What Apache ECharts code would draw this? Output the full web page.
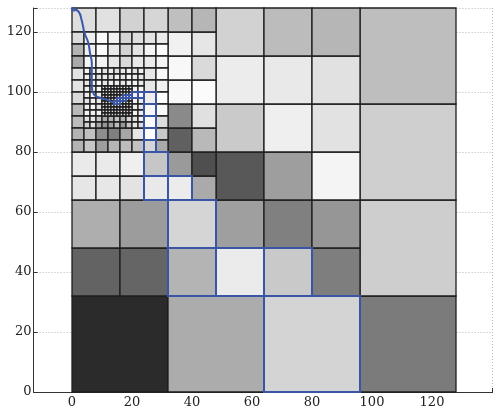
<!DOCTYPE html>
<html>
<head>
<meta charset="utf-8">
<script src="https://cdn.jsdelivr.net/npm/echarts@6/dist/echarts.min.js"></script>
<style>
  html, body { margin: 0; padding: 0; background: #fff; }
  #chart { width: 493px; height: 410px; }
</style>
</head>
<body>
<div id="chart"></div>
<script>
// coarse quadtree cells: [x, y, size, gray]
const coarseCells = [
  [0, 0, 32, 43], [32, 0, 32, 172], [64, 0, 32, 212], [96, 0, 32, 123],
  [96, 32, 32, 206], [96, 64, 32, 207], [96, 96, 32, 190],
  [0, 32, 16, 99], [16, 32, 16, 101], [32, 32, 16, 180], [48, 32, 16, 235], [64, 32, 16, 201], [80, 32, 16, 126],
  [0, 48, 16, 174], [16, 48, 16, 156], [32, 48, 16, 213], [48, 48, 16, 159], [64, 48, 16, 128], [80, 48, 16, 150],
  [48, 64, 16, 88], [48, 80, 16, 202], [48, 96, 16, 236], [48, 112, 16, 210],
  [64, 64, 16, 158], [80, 64, 16, 244], [64, 80, 16, 239], [80, 80, 16, 226],
  [64, 96, 16, 233], [80, 96, 16, 225], [64, 112, 16, 188], [80, 112, 16, 182],
  [32, 64, 8, 236], [40, 64, 8, 170], [32, 72, 8, 154], [40, 72, 8, 79],
  [32, 80, 8, 96], [40, 80, 8, 185], [32, 88, 8, 138], [40, 88, 8, 224],
  [32, 96, 8, 248], [40, 96, 8, 251], [32, 104, 8, 248], [40, 104, 8, 218],
  [32, 112, 8, 241], [40, 112, 8, 230], [32, 120, 8, 191], [40, 120, 8, 182],
  [0, 64, 8, 230], [8, 64, 8, 231], [16, 64, 8, 227], [24, 64, 8, 233],
  [0, 72, 8, 234], [8, 72, 8, 234], [16, 72, 8, 239], [24, 72, 8, 198],
  [0, 120, 8, 222], [8, 120, 8, 225], [16, 120, 8, 210], [24, 120, 8, 214]
];

// 4-unit cells over x 0..32, y 80..120, top row first (null = refined further)
const grid4 = [
  [220, 239, 250, 240, 213, 221, 227, 235],
  [180, 240, 252, 233, 211, 227, 245, 252],
  [169, 245, 244, 230, 218, 232, 236, 245],
  [226, null, null, null, null, null, 230, 247],
  [227, null, null, null, null, null, 230, 242],
  [217, null, null, null, null, null, 238, 255],
  [185, null, null, null, null, null, 246, 248],
  [188, null, null, null, null, null, 249, 220],
  [179, 192, 141, 127, 166, 230, 252, 200],
  [179, 198, 158, 182, 189, 194, 213, 169]
];

// 2-unit cells over x 4..24, y 88..108, top row first
const grid2 = [
  [245, 235, 240, 228, 236, 224, 232, 240, 226, 238],
  [238, 250, 226, 236, 222, 240, 230, 246, 236, 230],
  [232, 240, 248, 230, 240, 236, 228, 238, 244, 232],
  [240, 236, 244, null, null, null, null, null, 240, 246],
  [236, 248, 238, null, null, null, null, null, 238, 244],
  [228, 240, 232, null, null, null, null, null, 244, 236],
  [236, 244, 226, null, null, null, null, null, 238, 230],
  [244, 238, 240, null, null, null, null, null, 242, 238],
  [226, 232, 200, 170, 180, 196, 176, 214, 226, 240],
  [210, 224, 168, 150, 160, 188, 150, 196, 230, 222]
];

// 1-unit cells over x 10..20, y 92..102, top row first
const grid1 = [
  [230, 224, 236, 228, 240, 226, 232, 236, 228, 234],
  [236, 228, 220, 234, 226, 238, 230, 228, 236, 226],
  [224, 232, 226, 218, 230, 224, 236, 230, 224, 232],
  [232, 220, 230, 226, 218, 232, 228, 236, 230, 228],
  [226, 234, 222, 230, 228, 220, 230, 226, 232, 224],
  [230, 222, 228, 220, 226, 230, 224, 232, 226, 230],
  [220, 228, 216, 226, 222, 228, 234, 228, 220, 226],
  [228, 220, 226, 214, 230, 218, 226, 220, 214, 222],
  [218, 226, 214, 222, 212, 224, 218, 226, 210, 218],
  [224, 216, 222, 210, 220, 214, 222, 218, 206, 214]
];

// cells outlined in blue: [x, y, size]
const pathCells = [
  [64, 0, 32], [32, 32, 16], [48, 32, 16], [64, 32, 16], [32, 48, 16],
  [32, 64, 8], [24, 64, 8], [24, 72, 8],
  [24, 80, 4], [24, 84, 4], [24, 88, 4], [24, 92, 4], [24, 96, 4],
  [22, 98, 2], [20, 98, 2],
  [19, 98, 1], [18, 98, 1], [17, 98, 1], [17, 97, 1], [16, 97, 1],
  [15, 97, 1], [15, 96, 1], [14, 96, 1]
];

// blue trajectory
const curve = [
  [0.5, 127.6], [2.2, 126.8], [3.2, 124], [3.7, 121.8], [4.2, 119.6], [5.4, 116.5],
  [6.0, 113], [6.6, 109.6], [6.6, 106.2], [6.6, 101.8], [7.3, 99.2], [9.3, 98.1],
  [12.1, 97.3], [14.3, 96.3]
];

function expandGrid(rows, x0, yTop, s) {
  const out = [];
  rows.forEach((row, r) => {
    row.forEach((g, c) => {
      if (g !== null) out.push([x0 + c * s, yTop - (r + 1) * s, s, g]);
    });
  });
  return out;
}

const allCells = coarseCells
  .concat(expandGrid(grid4, 0, 120, 4))
  .concat(expandGrid(grid2, 4, 108, 2))
  .concat(expandGrid(grid1, 10, 102, 1));

function cellRect(api) {
  const x = api.value(0), y = api.value(1), s = api.value(2);
  const p = api.coord([x, y + s]);
  const sz = api.size([s, s]);
  return { x: p[0], y: p[1], width: sz[0], height: sz[1] };
}

const chart = echarts.init(document.getElementById('chart'), null, { renderer: 'canvas' });

const axisFont = { fontFamily: '"DejaVu Serif", "Liberation Serif", serif', fontSize: 13, color: '#222' };

chart.setOption({
  animation: false,
  backgroundColor: '#fff',
  grid: { left: 33.6, right: -1.4, top: 8, bottom: 18, outerBoundsMode: 'none' },
  xAxis: {
    type: 'value',
    min: -12.8,
    max: 140.8,
    splitNumber: 8,
    axisLine: { onZero: false, lineStyle: { color: '#333', width: 1 } },
    axisTick: { inside: true, length: 4, lineStyle: { color: '#333' } },
    axisLabel: Object.assign({
      margin: 4,
      formatter: v => (v < 0 || v > 128 ? '' : String(v))
    }, axisFont),
    splitLine: { show: true, lineStyle: { color: '#b8b8b8', type: [1, 2], width: 1 } }
  },
  yAxis: {
    type: 'value',
    min: 0,
    max: 128,
    splitNumber: 6,
    axisLine: { show: true, onZero: false, lineStyle: { color: '#333', width: 1 } },
    axisTick: { show: true, inside: true, length: 4, lineStyle: { color: '#333' } },
    axisLabel: Object.assign({
      margin: 2,
      formatter: v => (v > 120 ? '' : String(v))
    }, axisFont),
    splitLine: { show: true, lineStyle: { color: '#b8b8b8', type: [1, 2], width: 1 } }
  },
  series: [
    {
      type: 'custom',
      silent: true,
      data: allCells,
      renderItem: (params, api) => {
        const g = api.value(3);
        return {
          type: 'rect',
          shape: cellRect(api),
          style: { fill: 'rgb(' + g + ',' + g + ',' + g + ')', stroke: '#1e1e1e', lineWidth: 1.3 }
        };
      }
    },
    {
      type: 'custom',
      silent: true,
      data: pathCells,
      renderItem: (params, api) => ({
        type: 'rect',
        shape: cellRect(api),
        style: { fill: null, stroke: '#3a55a6', lineWidth: 2 }
      })
    },
    {
      type: 'line',
      data: curve,
      smooth: true,
      showSymbol: false,
      lineStyle: { color: '#3b57a8', width: 2 }
    },
    {
      type: 'scatter',
      data: [curve[0]],
      symbolSize: 5,
      itemStyle: { color: '#3b57a8' }
    }
  ]
});
</script>
</body>
</html>
